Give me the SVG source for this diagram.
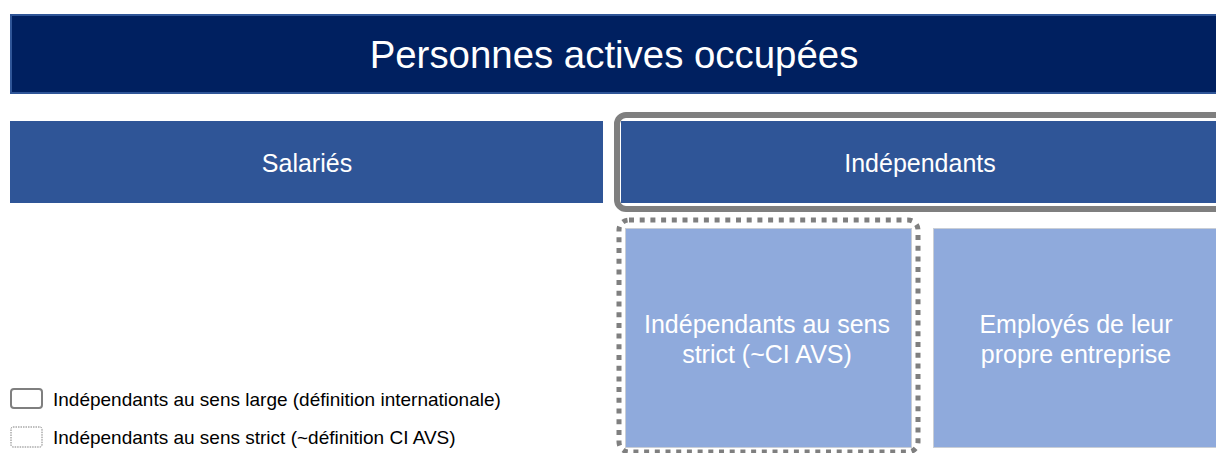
<svg xmlns="http://www.w3.org/2000/svg" width="1216" height="453" viewBox="0 0 1216 453">
<style>
text{font-family:"Liberation Sans",Arial,sans-serif;fill:#fff;text-anchor:middle}
.mid{font-size:25px}
.leg{font-size:19px;fill:#000;text-anchor:start}
.dark{fill:#2F5597}
.light{fill:#8FAADC;stroke:#C9CED6;stroke-width:1}
</style>
<rect width="1216" height="453" fill="#fff"/>
<g id="title">
<rect x="11" y="15" width="1220" height="78" fill="#002060" stroke="#2F5597" stroke-width="2"/>
<text x="614" y="68" style="font-size:38.4px">Personnes actives occupées</text>
</g>
<g id="salaries">
<rect class="dark" x="10" y="121" width="593" height="82"/>
<text class="mid" x="307" y="172">Salariés</text>
</g>
<g id="independants">
<rect x="617" y="115" width="620" height="94" rx="9" fill="none" stroke="#7F7F7F" stroke-width="6"/>
<rect class="dark" x="621" y="121" width="610" height="82"/>
<text class="mid" x="920" y="172">Indépendants</text>
</g>
<g id="strict">
<rect class="light" x="625.5" y="228.5" width="286" height="219"/>
<rect x="619" y="220" width="299" height="232" rx="10" fill="none" stroke="#7F7F7F" stroke-width="5" stroke-dasharray="5 5.7"/>
<text class="mid" x="767" y="333">Indépendants au sens</text>
<text class="mid" x="767" y="363">strict (~CI AVS)</text>
</g>
<g id="employes">
<rect class="light" x="933.5" y="228.5" width="300" height="219"/>
<text class="mid" x="1076" y="333">Employés de leur</text>
<text class="mid" x="1076" y="363">propre entreprise</text>
</g>
<g id="legend">
<rect x="11" y="389" width="31" height="19" rx="3" fill="none" stroke="#7F7F7F" stroke-width="2"/>
<text class="leg" x="53" y="406">Indépendants au sens large (définition internationale)</text>
<rect x="11" y="427" width="31" height="20" rx="2" fill="none" stroke="#7F7F7F" stroke-width="1" stroke-dasharray="1.5 1"/>
<text class="leg" x="53" y="444">Indépendants au sens strict (~définition CI AVS)</text>
</g>
<g id="connectors"/>
</svg>
